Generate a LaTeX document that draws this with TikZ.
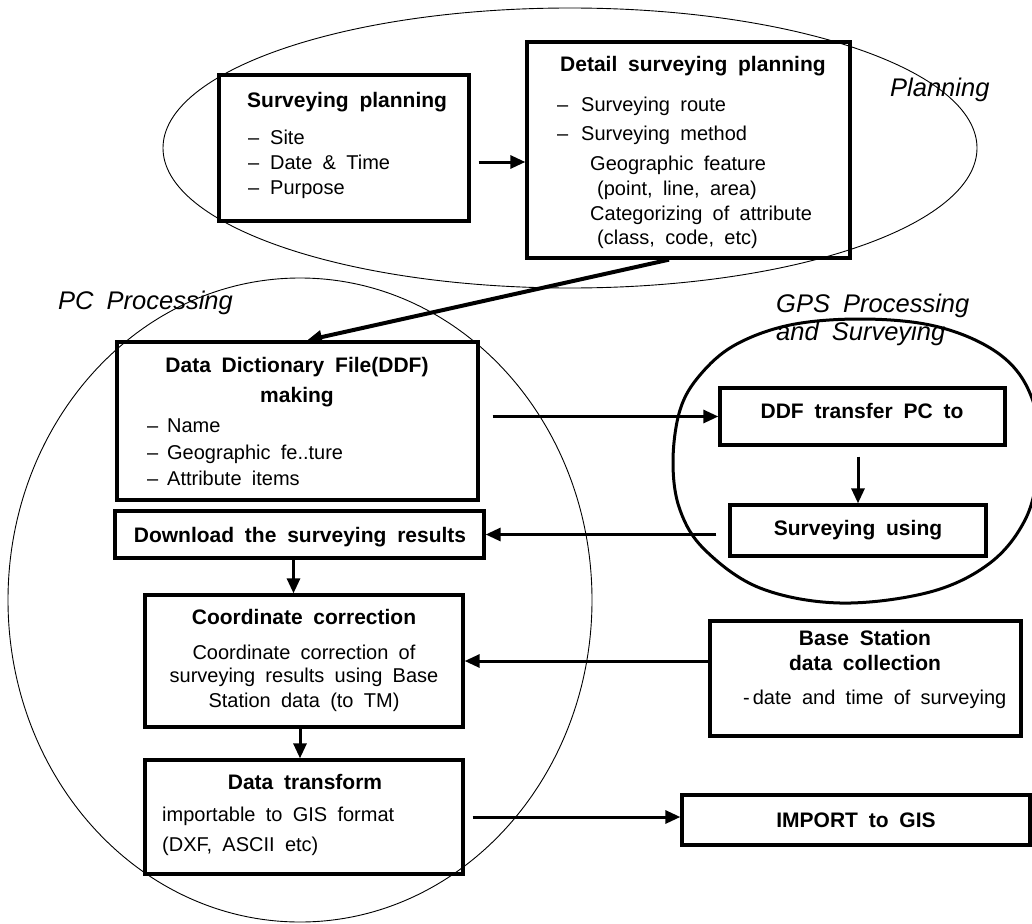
\documentclass[tikz,border=0pt]{standalone}
\usepackage{fontspec}
\setmainfont{Liberation Sans}[WordSpace=1.85]
\usetikzlibrary{arrows.meta}
\newcommand{\dsh}[1]{\makebox[#1][l]{\textendash}}
\begin{document}
\begin{tikzpicture}[x=1pt,y=-1pt,
  box/.style={draw, line width=3.3pt, inner sep=0pt},
  tt/.style={font=\fontsize{21}{25}\selectfont\bfseries, inner sep=0pt, anchor=base},
  bd/.style={font=\fontsize{20}{25}\selectfont, inner sep=0pt, anchor=base west},
  bdc/.style={font=\fontsize{20}{25}\selectfont, inner sep=0pt, anchor=base},
  lab/.style={font=\fontsize{25.5}{28}\selectfont\itshape, inner sep=0pt, anchor=base west},
  arr/.style={line width=3pt, -{Triangle[length=15pt,width=13pt]}},
  zone/.style={line width=0.9pt}]
\fill[white] (0,0) rectangle (1032,923);
\useasboundingbox (0,0) rectangle (1032,923);

% zones
\draw[zone] (570,148) ellipse [x radius=407pt, y radius=140pt];
\draw[zone] (300,600) ellipse [x radius=292pt, y radius=322pt];
\draw[line width=3pt] plot[smooth cycle, tension=0.6] coordinates {
  (673,462) (680,410) (700,375) (735,345) (790,325) (860,319) (930,325)
  (985,345) (1020,375) (1038,420) (1038,470) (1025,520) (990,563)
  (930,592) (840,603) (760,588) (705,550) (680,510)};

% zone labels
\node[lab] (lplan) at (890,97) {Planning};
\node[lab] (lpc) at (58,309) {PC Processing};
\node[lab] (lgps1) at (776,312) {GPS Processing};
\node[lab] (lgps2) at (776,340) {and Surveying};

% boxes
\node[box, minimum width=250pt, minimum height=146pt] (sp) at (344,148) {};
\node[box, minimum width=323pt, minimum height=216pt] (dsp) at (688.5,150) {};
\node[box, minimum width=361pt, minimum height=158pt] (ddf) at (297.5,421) {};
\node[box, minimum width=369pt, minimum height=47pt] (dl) at (299.5,534.5) {};
\node[box, minimum width=318pt, minimum height=132pt] (cc) at (304,661) {};
\node[box, minimum width=318pt, minimum height=114pt] (dt) at (304,817) {};
\node[box, minimum width=285pt, minimum height=57pt] (xfer) at (862.5,416.5) {};
\node[box, minimum width=256pt, minimum height=51pt] (su) at (858,530.5) {};
\node[box, minimum width=311pt, minimum height=115pt] (bs) at (865.5,678.5) {};
\node[box, minimum width=348pt, minimum height=50pt] (imp) at (856,820) {};

% Surveying planning
\node[tt, anchor=base west] (spT) at (247,107) {Surveying planning};
\node[bd] (sp1) at (248,144) {\dsh{22pt}Site};
\node[bd] (sp2) at (248,169) {\dsh{22pt}Date \& Time};
\node[bd] (sp3) at (248,194) {\dsh{22pt}Purpose};

% Detail surveying planning
\node[tt, anchor=base west] (dspT) at (560,72) {Detail surveying planning};
\node[bd] (dsp1) at (557,111) {\dsh{24pt}Surveying route};
\node[bd] (dsp2) at (557,140) {\dsh{24pt}Surveying method};
\node[bd] (dsp3) at (590,170) {Geographic feature};
\node[bd] (dsp4) at (597,195) {(point, line, area)};
\node[bd] (dsp5) at (590,220) {Categorizing of attribute};
\node[bd] (dsp6) at (597,244) {(class, code, etc)};

% DDF making
\node[tt] (ddfT1) at (297,372) {Data Dictionary File(DDF)};
\node[tt] (ddfT2) at (297,402) {making};
\node[bd] (ddf1) at (147,432) {\dsh{20pt}Name};
\node[bd] (ddf2) at (147,459) {\dsh{20pt}Geographic fe..ture};
\node[bd] (ddf3) at (147,485) {\dsh{20pt}Attribute items};

% Download
\node[tt] (dlT) at (300,542) {Download the surveying results};

% Coordinate correction
\node[tt] (ccT) at (304,624) {Coordinate correction};
\node[bdc] (cc1) at (304,659) {Coordinate correction of};
\node[bdc] (cc2) at (304,682) {surveying results using Base};
\node[bdc] (cc3) at (304,707) {Station data (to TM)};

% Data transform
\node[tt] (dtT) at (305,789) {Data transform};
\node[bd] (dt1) at (162,821) {importable to GIS format};
\node[bd] (dt2) at (162,851) {(DXF, ASCII etc)};

% GPS side
\node[tt] (xferT) at (862,418) {DDF transfer PC to};
\node[tt] (suT) at (858,535) {Surveying using};
\node[tt] (bsT1) at (865,645) {Base Station};
\node[tt] (bsT2) at (865,670) {data collection};
\node[bd] (bs1) at (743,704) {-\hspace{3pt}date and time of surveying};
\node[tt] (impT) at (856,827) {IMPORT to GIS};

% connectors
\draw[arr, shorten <=8pt] ([yshift=-14pt]sp.east) -- ([yshift=-14pt]sp.east -| dsp.west);
\draw[arr, line width=4pt] ([xshift=-19.5pt]dsp.south) -- ([xshift=9.5pt]ddf.north);
\draw[arr, shorten <=13pt] (ddf.east |- xfer.west) -- (xfer.west);
\draw[arr, shorten <=10pt] (su.north |- xfer.south) -- (su.north);
\draw[arr, shorten <=12pt] (su.west |- dl.east) -- (dl.east);
\draw[arr] ([xshift=-6pt]dl.south) -- ([xshift=-6pt]dl.south |- cc.north);
\draw[arr] ([xshift=-4pt]cc.south) -- ([xshift=-4pt]cc.south |- dt.north);
\draw[arr] (cc.east -| bs.west) -- (cc.east);
\draw[arr, shorten <=8pt] (dt.east) -- (dt.east -| imp.west);
\end{tikzpicture}
\end{document}
